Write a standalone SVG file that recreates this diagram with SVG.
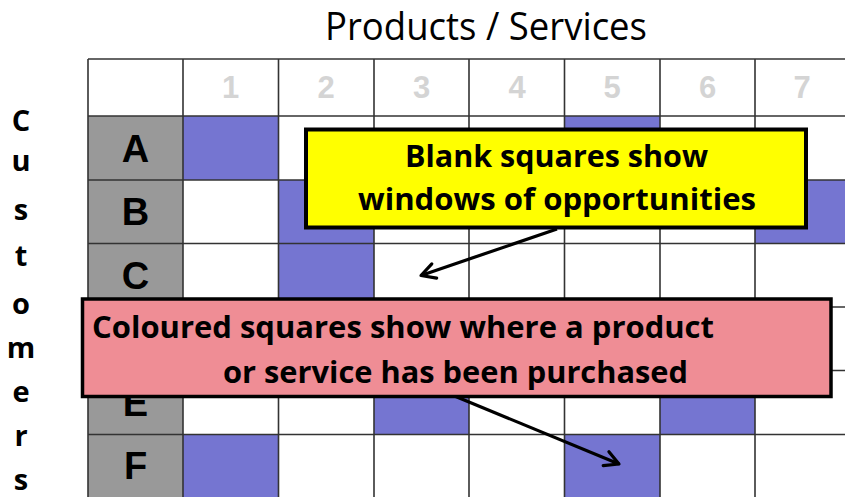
<svg xmlns="http://www.w3.org/2000/svg" width="845" height="497" viewBox="0 0 845 497">
  <style>
    .on { fill: #7575D1; }
    .hdrcell { fill: #999999; }
    .gl { stroke: #333333; stroke-width: 1.6; fill: none; }
    .hdr { font-family: "Liberation Sans", Arial, sans-serif; font-weight: bold; font-size: 31px; fill: #D4D4D4; text-anchor: middle; }
    .rowlbl { font-family: "Liberation Sans", Arial, sans-serif; font-weight: bold; font-size: 38px; fill: #000000; text-anchor: middle; }
    .cust { font-family: "Open Sans", "Noto Sans", sans-serif; font-weight: bold; font-size: 29px; fill: #000000; text-anchor: middle; }
    .title { font-family: "Open Sans", "Noto Sans", sans-serif; font-size: 38px; fill: #000000; }
    .call { font-family: "Open Sans", "Noto Sans", sans-serif; font-weight: bold; font-size: 31px; fill: #000000; }
    .conn { stroke: #000000; stroke-width: 3.2; fill: none; }
  </style>
  <defs>
    <marker id="arrow" markerUnits="userSpaceOnUse" markerWidth="22" markerHeight="22" viewBox="0 0 22 22" refX="18" refY="11" orient="auto" overflow="visible">
      <path d="M4,3.5 L18,11 L4,18.5" fill="none" stroke="#000000" stroke-width="3.2" stroke-linecap="round" stroke-linejoin="round"/>
    </marker>
  </defs>

  <rect x="0" y="0" width="845" height="497" fill="#FFFFFF"/>

  <g id="title">
    <text class="title" x="325" y="40" textLength="322" lengthAdjust="spacingAndGlyphs">Products / Services</text>
  </g>

  <g id="customers-axis">
    <text class="cust" x="21" y="131">C</text>
    <text class="cust" x="21" y="171">u</text>
    <text class="cust" x="21" y="220">s</text>
    <text class="cust" x="21" y="266">t</text>
    <text class="cust" x="21" y="314">o</text>
    <text class="cust" x="21" y="358">m</text>
    <text class="cust" x="21" y="402">e</text>
    <text class="cust" x="21" y="446">r</text>
    <text class="cust" x="21" y="490">s</text>
  </g>

  <g id="grid">
    <rect class="hdrcell" x="88" y="116" width="95" height="381"/>
    <rect class="on" x="183" y="116" width="95.5" height="64"/>
    <rect class="on" x="564.5" y="116" width="95.5" height="64"/>
    <rect class="on" x="278.5" y="180" width="95.5" height="63.5"/>
    <rect class="on" x="755" y="180" width="95" height="63.5"/>
    <rect class="on" x="278.5" y="243.5" width="95.5" height="63.5"/>
    <rect class="on" x="374" y="370.5" width="95" height="64"/>
    <rect class="on" x="660" y="370.5" width="95" height="64"/>
    <rect class="on" x="183" y="434.5" width="95.5" height="63"/>
    <rect class="on" x="564.5" y="434.5" width="95.5" height="63"/>

    <g class="gl">
      <line x1="88" y1="59" x2="845" y2="59"/>
      <line x1="88" y1="116" x2="845" y2="116"/>
      <line x1="88" y1="180" x2="845" y2="180"/>
      <line x1="88" y1="243.5" x2="845" y2="243.5"/>
      <line x1="88" y1="307" x2="845" y2="307"/>
      <line x1="88" y1="370.5" x2="845" y2="370.5"/>
      <line x1="88" y1="434.5" x2="845" y2="434.5"/>
      <line x1="88" y1="59" x2="88" y2="497"/>
      <line x1="183" y1="59" x2="183" y2="497"/>
      <line x1="278.5" y1="59" x2="278.5" y2="497"/>
      <line x1="374" y1="59" x2="374" y2="497"/>
      <line x1="469" y1="59" x2="469" y2="497"/>
      <line x1="564.5" y1="59" x2="564.5" y2="497"/>
      <line x1="660" y1="59" x2="660" y2="497"/>
      <line x1="755" y1="59" x2="755" y2="497"/>
    </g>

    <text class="hdr" x="230.5" y="98">1</text>
    <text class="hdr" x="326" y="98">2</text>
    <text class="hdr" x="421.5" y="98">3</text>
    <text class="hdr" x="517" y="98">4</text>
    <text class="hdr" x="612" y="98">5</text>
    <text class="hdr" x="707.5" y="98">6</text>
    <text class="hdr" x="802" y="98">7</text>

    <text class="rowlbl" x="135.5" y="161.5">A</text>
    <text class="rowlbl" x="135.5" y="225">B</text>
    <text class="rowlbl" x="135.5" y="288.5">C</text>
    <text class="rowlbl" x="135.5" y="416">E</text>
    <text class="rowlbl" x="135.5" y="479">F</text>
  </g>

  <g id="connectors">
    <line class="conn" x1="557" y1="229" x2="421" y2="275.5" marker-end="url(#arrow)"/>
    <line class="conn" x1="440" y1="390" x2="619" y2="464" marker-end="url(#arrow)"/>
  </g>

  <g id="callout-blank">
    <rect x="306" y="129.5" width="500" height="98" fill="#FFFF00" stroke="#000000" stroke-width="4"/>
    <text class="call" x="405" y="166.5" textLength="303" lengthAdjust="spacingAndGlyphs">Blank squares show</text>
    <text class="call" x="358" y="210" textLength="398" lengthAdjust="spacingAndGlyphs">windows of opportunities</text>
  </g>

  <g id="callout-coloured">
    <rect x="82.5" y="299" width="748.5" height="97.5" fill="#EF8D95" stroke="#000000" stroke-width="3.5"/>
    <text class="call" x="92" y="337.5" textLength="622" lengthAdjust="spacingAndGlyphs">Coloured squares show where a product</text>
    <text class="call" x="223" y="382.5" textLength="465" lengthAdjust="spacingAndGlyphs">or service has been purchased</text>
  </g>
</svg>
